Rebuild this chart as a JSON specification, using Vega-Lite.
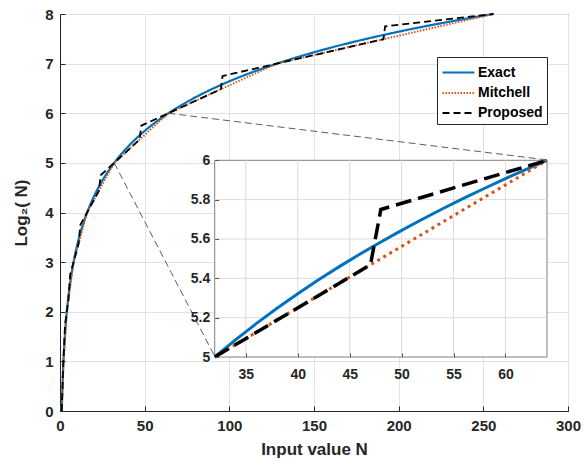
{
  "$schema": "https://vega.github.io/schema/vega-lite/v6.json",
  "width": 508,
  "height": 397,
  "autosize": "none",
  "padding": {"left": 60, "top": 14, "right": 16, "bottom": 57},
  "background": "white",
  "config": {
    "font": "Liberation Sans",
    "view": {"stroke": "#262626", "strokeWidth": 1},
    "axis": {
      "labelFont": "Liberation Sans",
      "labelFontWeight": "bold",
      "labelColor": "#262626",
      "titleFont": "Liberation Sans",
      "titleFontWeight": "bold",
      "titleColor": "#262626",
      "domainColor": "#262626",
      "tickColor": "#262626",
      "gridColor": "#e2e2e2"
    }
  },
  "datasets": {
    "curves": [
      {"N": 1, "v": 0, "m": "Exact"},
      {"N": 2, "v": 1, "m": "Exact"},
      {"N": 3, "v": 1.58496, "m": "Exact"},
      {"N": 4, "v": 2, "m": "Exact"},
      {"N": 5, "v": 2.32193, "m": "Exact"},
      {"N": 6, "v": 2.58496, "m": "Exact"},
      {"N": 7, "v": 2.80735, "m": "Exact"},
      {"N": 8, "v": 3, "m": "Exact"},
      {"N": 9, "v": 3.16993, "m": "Exact"},
      {"N": 10, "v": 3.32193, "m": "Exact"},
      {"N": 11, "v": 3.45943, "m": "Exact"},
      {"N": 12, "v": 3.58496, "m": "Exact"},
      {"N": 13, "v": 3.70044, "m": "Exact"},
      {"N": 14, "v": 3.80735, "m": "Exact"},
      {"N": 15, "v": 3.90689, "m": "Exact"},
      {"N": 16, "v": 4, "m": "Exact"},
      {"N": 18, "v": 4.16993, "m": "Exact"},
      {"N": 20, "v": 4.32193, "m": "Exact"},
      {"N": 22, "v": 4.45943, "m": "Exact"},
      {"N": 24, "v": 4.58496, "m": "Exact"},
      {"N": 26, "v": 4.70044, "m": "Exact"},
      {"N": 28, "v": 4.80735, "m": "Exact"},
      {"N": 30, "v": 4.90689, "m": "Exact"},
      {"N": 32, "v": 5, "m": "Exact"},
      {"N": 34, "v": 5.08746, "m": "Exact"},
      {"N": 36, "v": 5.16993, "m": "Exact"},
      {"N": 38, "v": 5.24793, "m": "Exact"},
      {"N": 40, "v": 5.32193, "m": "Exact"},
      {"N": 42, "v": 5.39232, "m": "Exact"},
      {"N": 44, "v": 5.45943, "m": "Exact"},
      {"N": 46, "v": 5.52356, "m": "Exact"},
      {"N": 48, "v": 5.58496, "m": "Exact"},
      {"N": 50, "v": 5.64386, "m": "Exact"},
      {"N": 52, "v": 5.70044, "m": "Exact"},
      {"N": 54, "v": 5.75489, "m": "Exact"},
      {"N": 56, "v": 5.80735, "m": "Exact"},
      {"N": 58, "v": 5.85798, "m": "Exact"},
      {"N": 60, "v": 5.90689, "m": "Exact"},
      {"N": 62, "v": 5.9542, "m": "Exact"},
      {"N": 64, "v": 6, "m": "Exact"},
      {"N": 68, "v": 6.08746, "m": "Exact"},
      {"N": 72, "v": 6.16993, "m": "Exact"},
      {"N": 76, "v": 6.24793, "m": "Exact"},
      {"N": 80, "v": 6.32193, "m": "Exact"},
      {"N": 84, "v": 6.39232, "m": "Exact"},
      {"N": 88, "v": 6.45943, "m": "Exact"},
      {"N": 92, "v": 6.52356, "m": "Exact"},
      {"N": 96, "v": 6.58496, "m": "Exact"},
      {"N": 100, "v": 6.64386, "m": "Exact"},
      {"N": 104, "v": 6.70044, "m": "Exact"},
      {"N": 108, "v": 6.75489, "m": "Exact"},
      {"N": 112, "v": 6.80735, "m": "Exact"},
      {"N": 116, "v": 6.85798, "m": "Exact"},
      {"N": 120, "v": 6.90689, "m": "Exact"},
      {"N": 124, "v": 6.9542, "m": "Exact"},
      {"N": 128, "v": 7, "m": "Exact"},
      {"N": 136, "v": 7.08746, "m": "Exact"},
      {"N": 144, "v": 7.16993, "m": "Exact"},
      {"N": 152, "v": 7.24793, "m": "Exact"},
      {"N": 160, "v": 7.32193, "m": "Exact"},
      {"N": 168, "v": 7.39232, "m": "Exact"},
      {"N": 176, "v": 7.45943, "m": "Exact"},
      {"N": 184, "v": 7.52356, "m": "Exact"},
      {"N": 192, "v": 7.58496, "m": "Exact"},
      {"N": 200, "v": 7.64386, "m": "Exact"},
      {"N": 208, "v": 7.70044, "m": "Exact"},
      {"N": 216, "v": 7.75489, "m": "Exact"},
      {"N": 224, "v": 7.80735, "m": "Exact"},
      {"N": 232, "v": 7.85798, "m": "Exact"},
      {"N": 240, "v": 7.90689, "m": "Exact"},
      {"N": 248, "v": 7.9542, "m": "Exact"},
      {"N": 256, "v": 8, "m": "Exact"},
      {"N": 1, "v": 0, "m": "Mitchell"},
      {"N": 2, "v": 1, "m": "Mitchell"},
      {"N": 4, "v": 2, "m": "Mitchell"},
      {"N": 8, "v": 3, "m": "Mitchell"},
      {"N": 16, "v": 4, "m": "Mitchell"},
      {"N": 32, "v": 5, "m": "Mitchell"},
      {"N": 64, "v": 6, "m": "Mitchell"},
      {"N": 128, "v": 7, "m": "Mitchell"},
      {"N": 256, "v": 8, "m": "Mitchell"},
      {"N": 1, "v": 0, "m": "Proposed"},
      {"N": 2, "v": 1, "m": "Proposed"},
      {"N": 3, "v": 1.75, "m": "Proposed"},
      {"N": 4, "v": 2, "m": "Proposed"},
      {"N": 5, "v": 2.25, "m": "Proposed"},
      {"N": 6, "v": 2.75, "m": "Proposed"},
      {"N": 8, "v": 3, "m": "Proposed"},
      {"N": 11, "v": 3.375, "m": "Proposed"},
      {"N": 12, "v": 3.75, "m": "Proposed"},
      {"N": 16, "v": 4, "m": "Proposed"},
      {"N": 23, "v": 4.4375, "m": "Proposed"},
      {"N": 24, "v": 4.75, "m": "Proposed"},
      {"N": 32, "v": 5, "m": "Proposed"},
      {"N": 47, "v": 5.46875, "m": "Proposed"},
      {"N": 48, "v": 5.75, "m": "Proposed"},
      {"N": 64, "v": 6, "m": "Proposed"},
      {"N": 95, "v": 6.484375, "m": "Proposed"},
      {"N": 96, "v": 6.75, "m": "Proposed"},
      {"N": 128, "v": 7, "m": "Proposed"},
      {"N": 191, "v": 7.4921875, "m": "Proposed"},
      {"N": 192, "v": 7.75, "m": "Proposed"},
      {"N": 256, "v": 8, "m": "Proposed"}
    ],
    "connectors": [
      {"N": 32, "v": 5, "N2": 91.4, "v2": 1.1},
      {"N": 64, "v": 6, "N2": 287.6, "v2": 5.06}
    ],
    "insetGridX": [{"g": 35}, {"g": 40}, {"g": 45}, {"g": 50}, {"g": 55}, {"g": 60}],
    "insetGridY": [{"g": 5.2}, {"g": 5.4}, {"g": 5.6}, {"g": 5.8}]
  },
  "layer": [
    {
      "layer": [
        {
          "data": {"name": "curves"},
          "mark": {"type": "line", "strokeCap": "butt"},
          "encoding": {
            "x": {
              "field": "N", "type": "quantitative",
              "scale": {"domain": [0, 300], "nice": false, "zero": false},
              "axis": {
                "title": "Input value  N", "values": [0, 50, 100, 150, 200, 250, 300],
                "format": "d", "grid": true, "labelFontSize": 15, "titleFontSize": 17,
                "tickSize": -5, "labelPadding": 12, "titlePadding": 8, "labelFlush": false
              }
            },
            "y": {
              "field": "v", "type": "quantitative",
              "scale": {"domain": [0, 8], "nice": false},
              "axis": {
                "title": "Log₂( N)", "values": [0, 1, 2, 3, 4, 5, 6, 7, 8],
                "format": "d", "grid": true, "labelFontSize": 15, "titleFontSize": 17,
                "tickSize": -5, "labelPadding": 12, "titlePadding": 14
              }
            },
            "color": {
              "field": "m", "type": "nominal",
              "scale": {"domain": ["Exact", "Mitchell", "Proposed"], "range": ["#0072BD", "#D95319", "#000000"]},
              "legend": {
                "orient": "none", "legendX": 377, "legendY": 43, "title": null,
                "symbolType": "M-1.6,0H1.6", "symbolSize": 400, "symbolStrokeWidth": 2.5,
                "symbolOffset": 6,
                "labelFontSize": 14, "labelFontWeight": "bold", "labelColor": "#000000",
                "labelFont": "Liberation Sans", "fillColor": "white", "strokeColor": "#262626",
                "padding": 4, "rowPadding": 2, "labelOffset": 8
              }
            },
            "strokeDash": {
              "field": "m", "type": "nominal",
              "scale": {"domain": ["Exact", "Mitchell", "Proposed"], "range": [[1, 0], [1.5, 1.5], [7, 4]]},
              "legend": {
                "orient": "none", "legendX": 377, "legendY": 43, "title": null,
                "symbolType": "M-1.6,0H1.6", "symbolSize": 400, "symbolStrokeWidth": 2.5,
                "symbolOffset": 6,
                "labelFontSize": 14, "labelFontWeight": "bold", "labelColor": "#000000",
                "labelFont": "Liberation Sans", "fillColor": "white", "strokeColor": "#262626",
                "padding": 4, "rowPadding": 2, "labelOffset": 8
              }
            },
            "strokeWidth": {
              "field": "m", "type": "nominal",
              "scale": {"domain": ["Exact", "Mitchell", "Proposed"], "range": [2.2, 1.8, 2.3]},
              "legend": null
            }
          }
        },
        {
          "data": {"name": "connectors"},
          "mark": {"type": "rule", "strokeDash": [7, 4], "strokeWidth": 0.8, "color": "#333333"},
          "encoding": {
            "x": {"field": "N", "type": "quantitative"},
            "y": {"field": "v", "type": "quantitative"},
            "x2": {"field": "N2"},
            "y2": {"field": "v2"}
          }
        }
      ]
    },
    {
      "layer": [
        {
          "data": {"values": [{}]},
          "mark": {"type": "rect", "fill": "white", "stroke": "#808080", "strokeWidth": 1},
          "encoding": {
            "x": {
              "datum": 32, "type": "quantitative", "title": null,
              "scale": {"domain": [32, 64], "range": [154.7, 487], "nice": false, "zero": false},
              "axis": {
                "title": null, "orient": "bottom", "offset": -54, "values": [35, 40, 45, 50, 55, 60],
                "format": "d", "grid": false, "domain": false, "labelFontSize": 14,
                "tickSize": -4, "tickColor": "#555555", "labelPadding": 14, "zindex": 1
              }
            },
            "x2": {"datum": 64},
            "y": {
              "datum": 5, "type": "quantitative", "title": null,
              "scale": {"domain": [5, 6], "range": [343, 146.3], "nice": false, "zero": false},
              "axis": {
                "title": null, "orient": "left", "offset": -154.7, "values": [5, 5.2, 5.4, 5.6, 5.8, 6],
                "format": "~g", "grid": false, "domain": false, "labelFontSize": 14,
                "tickSize": -4, "tickColor": "#555555", "labelPadding": 9, "zindex": 1
              }
            },
            "y2": {"datum": 6}
          }
        },
        {
          "data": {"name": "insetGridX"},
          "mark": {"type": "rule", "color": "#dcdcdc", "strokeWidth": 1},
          "encoding": {
            "x": {"field": "g", "type": "quantitative", "title": null},
            "y": {"datum": 5, "type": "quantitative", "title": null},
            "y2": {"datum": 6}
          }
        },
        {
          "data": {"name": "insetGridY"},
          "mark": {"type": "rule", "color": "#dcdcdc", "strokeWidth": 1},
          "encoding": {
            "y": {"field": "g", "type": "quantitative", "title": null},
            "x": {"datum": 32, "type": "quantitative", "title": null},
            "x2": {"datum": 64}
          }
        },
        {
          "data": {"name": "curves"},
          "transform": [{"filter": "datum.m === 'Exact' && datum.N >= 32 && datum.N <= 64"}],
          "mark": {"type": "line", "color": "#0072BD", "strokeWidth": 3},
          "encoding": {
            "x": {"field": "N", "type": "quantitative", "title": null},
            "y": {"field": "v", "type": "quantitative", "title": null}
          }
        },
        {
          "data": {"name": "curves"},
          "transform": [{"filter": "datum.m === 'Mitchell' && datum.N >= 32 && datum.N <= 64"}],
          "mark": {"type": "line", "color": "#D95319", "strokeWidth": 3, "strokeDash": [3, 4], "strokeCap": "butt"},
          "encoding": {
            "x": {"field": "N", "type": "quantitative", "title": null},
            "y": {"field": "v", "type": "quantitative", "title": null}
          }
        },
        {
          "data": {"name": "curves"},
          "transform": [{"filter": "datum.m === 'Proposed' && datum.N >= 32 && datum.N <= 64"}],
          "mark": {"type": "line", "color": "#000000", "strokeWidth": 3.5, "strokeDash": [16, 7], "strokeCap": "butt"},
          "encoding": {
            "x": {"field": "N", "type": "quantitative", "title": null},
            "y": {"field": "v", "type": "quantitative", "title": null}
          }
        }
      ]
    }
  ],
  "resolve": {"scale": {"x": "independent", "y": "independent"}}
}
